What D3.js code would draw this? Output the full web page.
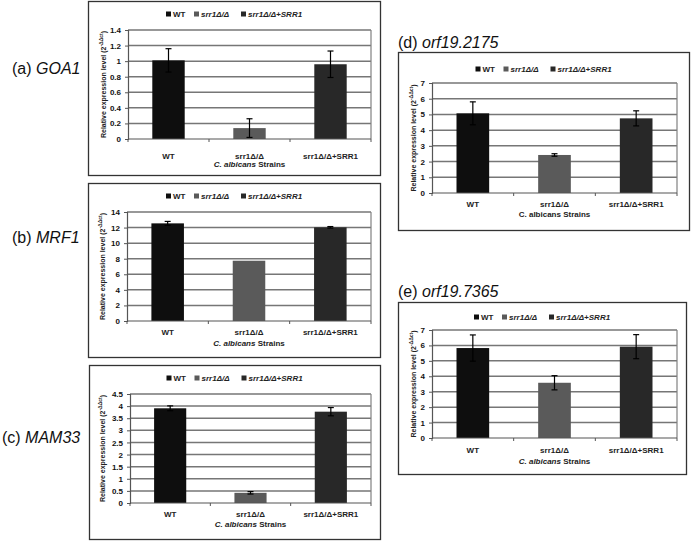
<!DOCTYPE html>
<html>
<head>
<meta charset="utf-8">
<script src="https://cdn.jsdelivr.net/npm/d3@7"></script>
<style>
  body { margin: 0; background: #fff; }
  svg { display: block; font-family: "Liberation Sans", Arial, sans-serif; }
</style>
</head>
<body>
<div id="chart"></div>
<script>
// strains on the x axis of every panel
const strains = ["WT", "srr1Δ/Δ", "srr1Δ/Δ+SRR1"];
const barColors = ["#0e0e0e", "#5a5a5a", "#282828"];

// mean relative expression and error per gene
const goa1 = [1.01, 0.14, 0.96];
const goa1Err = [0.15, 0.12, 0.17];
const mrf1 = [12.54, 7.74, 12.03];
const mrf1Err = [0.25, 0, 0.1];
const mam33 = [3.91, 0.42, 3.77];
const mam33Err = [0.1, 0.05, 0.17];
const orf2175 = [5.07, 2.42, 4.75];
const orf2175Err = [0.73, 0.08, 0.48];
const orf7365 = [5.83, 3.58, 5.92];
const orf7365Err = [0.85, 0.46, 0.78];

// y tick labels
const ticksA = [0, 0.2, 0.4, 0.6, 0.8, 1, 1.2, 1.4];
const ticksB = [0, 2, 4, 6, 8, 10, 12, 14];
const ticksC = [0, 0.5, 1, 1.5, 2, 2.5, 3, 3.5, 4, 4.5];
const ticksD = [0, 1, 2, 3, 4, 5, 6, 7];
const ticksE = [0, 1, 2, 3, 4, 5, 6, 7];

const panels = [
  { tag: "(a) ", gene: "GOA1", values: goa1, errs: goa1Err, ticks: ticksA,
    tagX: 12, tagY: 74, frame: [88, 1, 380, 175], plot: [128, 30, 371, 139],
    legendY: 14, tickY: 156, titleY: 164, ylabX: 104, italicTitle: true },
  { tag: "(b) ", gene: "MRF1", values: mrf1, errs: mrf1Err, ticks: ticksB,
    tagX: 12, tagY: 243, frame: [88, 183, 380, 357], plot: [127, 212, 371, 321],
    legendY: 196, tickY: 332, titleY: 343, ylabX: 103, italicTitle: true },
  { tag: "(c) ", gene: "MAM33", values: mam33, errs: mam33Err, ticks: ticksC,
    tagX: 2, tagY: 443, frame: [89, 365, 380, 539], plot: [130, 394, 371, 503],
    legendY: 378, tickY: 514, titleY: 524, ylabX: 103, italicTitle: true },
  { tag: "(d) ", gene: "orf19.2175", values: orf2175, errs: orf2175Err, ticks: ticksD,
    tagX: 398, tagY: 48, frame: [398, 52, 689, 230], plot: [432, 83, 677, 193],
    legendY: 69, tickY: 204, titleY: 214, ylabX: 414, italicTitle: false },
  { tag: "(e) ", gene: "orf19.7365", values: orf7365, errs: orf7365Err, ticks: ticksE,
    tagX: 398, tagY: 297, frame: [398, 302, 686, 474], plot: [432, 330, 677, 438],
    legendY: 317, tickY: 450, titleY: 461, ylabX: 414, italicTitle: true }
];

const svg = d3.select("#chart").append("svg")
  .attr("width", 691)
  .attr("height", 541);

panels.forEach(p => {
  const [fx0, fy0, fx1, fy1] = p.frame;
  const [px0, py0, px1, py1] = p.plot;
  const g = svg.append("g");

  // panel label, gene name in italics
  const tag = g.append("text")
    .attr("x", p.tagX)
    .attr("y", p.tagY)
    .style("font-size", "16px")
    .attr("fill", "#111");
  tag.append("tspan").text(p.tag);
  tag.append("tspan").style("font-style", "italic").text(p.gene);

  // outer frame
  g.append("rect")
    .attr("x", fx0 + 0.5)
    .attr("y", fy0 + 0.5)
    .attr("width", fx1 - fx0)
    .attr("height", fy1 - fy0)
    .attr("fill", "none")
    .attr("stroke", "#333")
    .attr("stroke-width", 1.3);

  const x = d3.scaleBand()
    .domain(strains)
    .range([px0, px1])
    .paddingInner(0.6)
    .paddingOuter(0.3);
  const step = x.step();

  const y = d3.scaleLinear()
    .domain([0, d3.max(p.ticks)])
    .range([py1, py0]);

  // gridlines
  g.selectAll("line.grid")
    .data(p.ticks.filter(t => t > 0))
    .enter()
    .append("line")
    .attr("class", "grid")
    .attr("x1", px0)
    .attr("x2", px1)
    .attr("y1", d => y(d))
    .attr("y2", d => y(d))
    .attr("stroke", "#767676")
    .attr("stroke-width", 1.5);

  // right side of plot area
  g.append("line")
    .attr("x1", px1).attr("x2", px1)
    .attr("y1", py0).attr("y2", py1)
    .attr("stroke", "#808080")
    .attr("stroke-width", 1.2);

  // bars
  g.selectAll("rect.bar")
    .data(p.values)
    .enter()
    .append("rect")
    .attr("class", "bar")
    .attr("x", (d, i) => x(strains[i]))
    .attr("y", d => y(d))
    .attr("width", x.bandwidth())
    .attr("height", d => y(0) - y(d))
    .attr("fill", (d, i) => barColors[i]);

  // error bars
  const eb = g.selectAll("g.err")
    .data(p.values.map((v, i) => ({ v, e: p.errs[i], s: strains[i] })).filter(d => d.e > 0))
    .enter()
    .append("g")
    .attr("class", "err")
    .attr("stroke", "#000")
    .attr("stroke-width", 1.2);
  eb.append("line")
    .attr("x1", d => x(d.s) + x.bandwidth() / 2)
    .attr("x2", d => x(d.s) + x.bandwidth() / 2)
    .attr("y1", d => y(d.v + d.e))
    .attr("y2", d => y(Math.max(0, d.v - d.e)));
  eb.append("line")
    .attr("x1", d => x(d.s) + x.bandwidth() / 2 - 3)
    .attr("x2", d => x(d.s) + x.bandwidth() / 2 + 3)
    .attr("y1", d => y(d.v + d.e))
    .attr("y2", d => y(d.v + d.e));
  eb.append("line")
    .attr("x1", d => x(d.s) + x.bandwidth() / 2 - 3)
    .attr("x2", d => x(d.s) + x.bandwidth() / 2 + 3)
    .attr("y1", d => y(Math.max(0, d.v - d.e)))
    .attr("y2", d => y(Math.max(0, d.v - d.e)));

  // y axis
  const yAxis = g.append("g")
    .attr("transform", `translate(${px0},0)`)
    .call(d3.axisLeft(y).tickValues(p.ticks).tickSize(3).tickPadding(4).tickFormat(d3.format("")));
  yAxis.select(".domain").attr("stroke", "#555").attr("stroke-width", 1.2);
  yAxis.selectAll(".tick line").attr("stroke", "#555");
  yAxis.selectAll(".tick text")
    .style("font-size", "8px")
    .style("font-weight", "bold")
    .attr("fill", "#111");

  // x axis with ticks between categories
  g.append("line")
    .attr("x1", px0).attr("x2", px1)
    .attr("y1", py1).attr("y2", py1)
    .attr("stroke", "#555")
    .attr("stroke-width", 1.2);
  g.selectAll("line.xtick")
    .data(d3.range(strains.length + 1))
    .enter()
    .append("line")
    .attr("class", "xtick")
    .attr("x1", i => px0 + i * step)
    .attr("x2", i => px0 + i * step)
    .attr("y1", py1)
    .attr("y2", py1 + 3)
    .attr("stroke", "#555");

  g.selectAll("text.xlab")
    .data(strains)
    .enter()
    .append("text")
    .attr("class", "xlab")
    .attr("x", d => x(d) + x.bandwidth() / 2)
    .attr("y", p.tickY)
    .attr("dy", "0.35em")
    .attr("text-anchor", "middle")
    .style("font-size", "8px")
    .style("font-weight", "bold")
    .attr("fill", "#222")
    .text(d => d);

  // x axis title
  const xt = g.append("text")
    .attr("x", (px0 + px1) / 2)
    .attr("y", p.titleY)
    .attr("dy", "0.35em")
    .attr("text-anchor", "middle")
    .style("font-size", "8px")
    .style("font-weight", "bold")
    .attr("fill", "#222");
  xt.append("tspan").style("font-style", p.italicTitle ? "italic" : "normal").text("C. albicans");
  xt.append("tspan").text(" Strains");

  // y axis title
  const yt = g.append("text")
    .attr("transform", `translate(${p.ylabX},${(py0 + py1) / 2}) rotate(-90)`)
    .attr("text-anchor", "middle")
    .attr("dy", "0.35em")
    .style("font-size", "7px")
    .style("font-weight", "bold")
    .attr("fill", "#222");
  yt.append("tspan").text("Relative expression level (2");
  yt.append("tspan").attr("dy", "-3").style("font-size", "5px").text("-ΔΔct");
  yt.append("tspan").attr("dy", "3").text(")");

  // legend
  const legItems = [
    { label: "WT", italic: false, w: 13 },
    { label: "srr1Δ/Δ", italic: true, w: 32 },
    { label: "srr1Δ/Δ+SRR1", italic: true, w: 54 }
  ];
  const gap = 8;
  const totalW = d3.sum(legItems, d => d.w + 7) + gap * 2;
  let lx = (fx0 + fx1) / 2 - totalW / 2;
  legItems.forEach((it, i) => {
    g.append("rect")
      .attr("x", lx)
      .attr("y", p.legendY - 2.5)
      .attr("width", 5)
      .attr("height", 5)
      .attr("fill", barColors[i]);
    g.append("text")
      .attr("x", lx + 7)
      .attr("y", p.legendY)
      .attr("dy", "0.35em")
      .style("font-size", "8px")
      .style("font-weight", "bold")
      .style("font-style", it.italic ? "italic" : "normal")
      .attr("fill", "#222")
      .text(it.label);
    lx += it.w + 7 + gap;
  });
});
</script>
</body>
</html>
